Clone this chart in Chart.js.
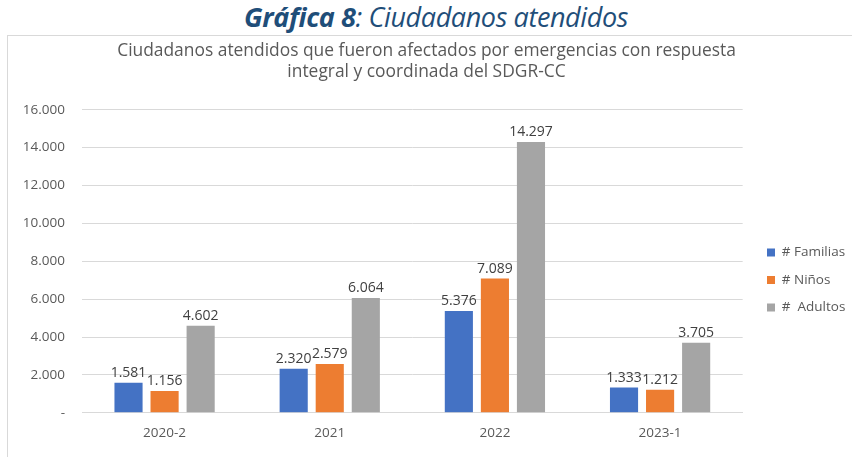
<!DOCTYPE html>
<html><head><meta charset="utf-8">
<script src="https://cdn.jsdelivr.net/npm/chart.js@4"></script>
<style>
html,body{margin:0;padding:0;background:#fff;width:852px;height:457px;overflow:hidden;}
#head{position:absolute;left:0;top:0;width:872px;text-align:center;font-family:"Open Sans","Noto Sans",sans-serif;font-style:italic;color:#1F4E79;font-size:27px;line-height:34px;letter-spacing:-0.4px;}
#head b{font-weight:700;}
#box{position:absolute;left:7px;top:35px;width:900px;height:450px;border:1px solid #D9D9D9;}
#wrap{position:absolute;left:8px;top:36px;width:844px;height:421px;}
</style></head><body>
<div id="head"><b>Gráfica 8</b>: Ciudadanos atendidos</div>
<div id="box"></div>
<div id="wrap"><canvas id="c"></canvas></div>
<script>
const categories = ["2020-2", "2021", "2022", "2023-1"];
const familias = [1581, 2320, 5376, 1333];
const ninos = [1156, 2579, 7089, 1212];
const adultos = [4602, 6064, 14297, 3705];
const seriesNames = ["# Familias", "# Niños", "#  Adultos"];
const titleLines = ["Ciudadanos atendidos que fueron afectados por emergencias con respuesta", "integral y coordinada del SDGR-CC"];

function fmt(v){ if(v===0) return '-'; return String(v).replace(/\B(?=(\d{3})+(?!\d))/g,'.'); }

const labelPlugin = {
  id:'vals',
  afterDatasetsDraw(chart){
    const ctx = chart.ctx;
    ctx.save();
    ctx.font = '14px "Open Sans", sans-serif';
    ctx.fillStyle = '#404040';
    ctx.textAlign = 'center';
    ctx.textBaseline = 'bottom';
    chart.data.datasets.forEach((ds,i)=>{
      chart.getDatasetMeta(i).data.forEach((bar,j)=>{
        ctx.fillText(fmt(ds.data[j]), bar.x, bar.y - 3);
      });
    });
    ctx.restore();
  }
};

const legendPlace = {
  id:'legendPlace',
  afterLayout(chart){
    const lg = chart.legend;
    if(!lg) return;
    const pad = lg.options.labels.padding;
    const cur = (lg.top + lg.bottom + pad)/2;
    const dy = 251 - cur;
    lg.top += dy; lg.bottom += dy;
    const dx = 759 - (lg.left + pad);
    lg.left += dx; lg.right += dx;
  }
};

Chart.defaults.font.family = '"Open Sans", sans-serif';
Chart.defaults.color = '#595959';

new Chart(document.getElementById('c'), {
  type:'bar',
  data:{
    labels: categories,
    datasets:[
      {label:seriesNames[0], data:familias, backgroundColor:'#4472C4'},
      {label:seriesNames[1], data:ninos, backgroundColor:'#ED7D31'},
      {label:seriesNames[2], data:adultos, backgroundColor:'#A5A5A5'}
    ]
  },
  options:{
    responsive:true, maintainAspectRatio:false, animation:false,
    categoryPercentage:0.655, barPercentage:0.78,
    layout:{padding:{left:0,right:7,top:0,bottom:12}},
    plugins:{
      title:{display:true, text:titleLines, color:'#595959', font:{size:17.4, weight:'normal'}, padding:{top:5,bottom:27}, lineHeight:1.5},
      legend:{position:'right', align:'center', labels:{boxWidth:8, boxHeight:8, padding:14, color:'#595959', font:{size:13.5}}},
      tooltip:{enabled:false}
    },
    scales:{
      x:{grid:{display:false}, border:{display:true,color:'#D9D9D9'}, ticks:{font:{size:13.5}, color:'#595959', padding:4}},
      y:{min:0,max:16000, ticks:{stepSize:2000, callback:v=>fmt(v), font:{size:13.5}, color:'#595959', padding:17},
         grid:{color:'#D9D9D9', drawTicks:false}, border:{display:false},
         afterFit(scale){ scale.width = 74; }}
    }
  },
  plugins:[labelPlugin, legendPlace]
});
</script>
</body></html>
